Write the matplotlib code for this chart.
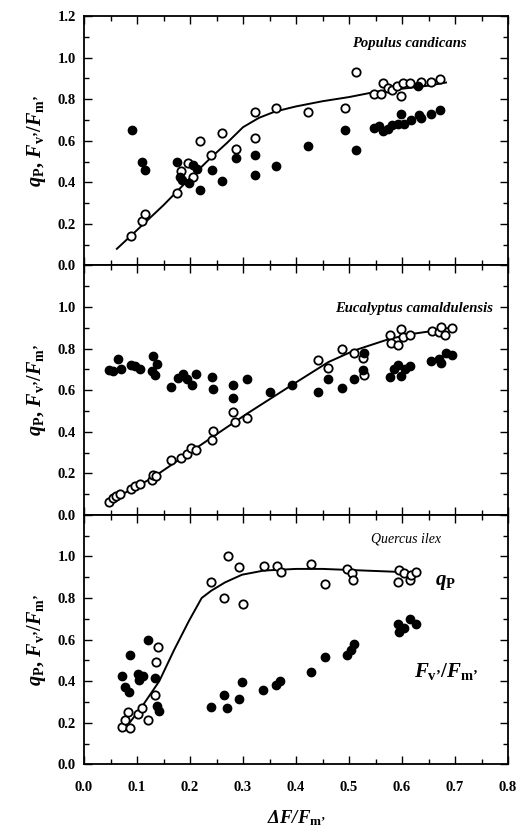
import matplotlib
matplotlib.use("Agg")
import matplotlib.pyplot as plt
from matplotlib.ticker import MultipleLocator, FixedLocator, FixedFormatter

plt.rcParams['font.family'] = ['Liberation Serif', 'DejaVu Serif']
plt.rcParams['font.weight'] = 'bold'
plt.rcParams['mathtext.fontset'] = 'custom'
plt.rcParams['mathtext.rm'] = 'Liberation Serif:bold'
plt.rcParams['mathtext.it'] = 'Liberation Serif:italic:bold'
plt.rcParams['mathtext.bf'] = 'Liberation Serif:bold'

# ---------------- data ----------------
# Populus candicans
pop_qp_x = [0.088,0.109,0.115,0.176,0.183,0.197,0.206,0.219,0.240,0.261,0.287,0.322,0.323,0.362,0.422,0.492,0.513,0.547,0.560,0.565,0.573,0.581,0.590,0.598,0.602,0.616,0.636,0.654,0.672]
pop_qp_y = [0.14,0.213,0.249,0.348,0.452,0.494,0.425,0.598,0.529,0.637,0.562,0.738,0.613,0.759,0.738,0.757,0.931,0.826,0.826,0.879,0.855,0.845,0.865,0.813,0.879,0.878,0.884,0.884,0.895]
pop_fv_x = [0.090,0.110,0.116,0.175,0.181,0.184,0.198,0.206,0.213,0.219,0.241,0.261,0.287,0.322,0.322,0.362,0.422,0.492,0.513,0.547,0.557,0.565,0.573,0.582,0.592,0.598,0.604,0.617,0.631,0.632,0.636,0.654,0.672]
pop_fv_y = [0.650,0.497,0.460,0.497,0.425,0.409,0.396,0.481,0.465,0.364,0.460,0.406,0.518,0.529,0.433,0.480,0.573,0.650,0.553,0.661,0.669,0.645,0.658,0.674,0.679,0.730,0.682,0.701,0.862,0.722,0.711,0.730,0.746]
pop_fit_x = [0.062,0.10,0.15,0.20,0.24,0.27,0.30,0.33,0.36,0.40,0.45,0.50,0.55,0.60,0.65,0.683]
pop_fit_y = [0.08,0.17,0.29,0.42,0.52,0.59,0.665,0.71,0.74,0.765,0.79,0.81,0.835,0.85,0.865,0.88]

# Eucalyptus camaldulensis
euc_qp_x = [0.047,0.054,0.061,0.068,0.088,0.097,0.106,0.129,0.131,0.136,0.164,0.183,0.194,0.201,0.212,0.242,0.244,0.281,0.285,0.307,0.441,0.461,0.487,0.510,0.527,0.529,0.577,0.580,0.593,0.598,0.601,0.616,0.656,0.669,0.674,0.681,0.694]
euc_qp_y = [0.064,0.080,0.090,0.099,0.125,0.138,0.148,0.170,0.193,0.189,0.266,0.273,0.294,0.324,0.313,0.359,0.403,0.494,0.449,0.465,0.744,0.708,0.796,0.777,0.754,0.671,0.866,0.828,0.818,0.895,0.855,0.866,0.886,0.879,0.906,0.866,0.900]
euc_fv_x = [0.047,0.054,0.064,0.069,0.088,0.096,0.105,0.130,0.129,0.134,0.138,0.164,0.178,0.186,0.194,0.203,0.212,0.242,0.244,0.282,0.281,0.308,0.350,0.393,0.441,0.461,0.487,0.510,0.529,0.527,0.577,0.584,0.593,0.598,0.606,0.616,0.655,0.669,0.674,0.683,0.694]
euc_fv_y = [0.695,0.693,0.751,0.700,0.722,0.716,0.703,0.764,0.693,0.675,0.725,0.616,0.658,0.679,0.655,0.626,0.679,0.663,0.606,0.627,0.563,0.655,0.592,0.627,0.590,0.655,0.610,0.655,0.780,0.695,0.663,0.703,0.719,0.667,0.700,0.716,0.740,0.748,0.732,0.780,0.770]
euc_fit_x = [0.045,0.129,0.242,0.307,0.393,0.461,0.510,0.577,0.620,0.656,0.696]
euc_fit_y = [0.061,0.178,0.374,0.486,0.626,0.735,0.791,0.847,0.871,0.884,0.903]

# Quercus ilex
que_qp_x = [0.072,0.077,0.083,0.086,0.101,0.110,0.121,0.134,0.136,0.140,0.240,0.264,0.271,0.293,0.300,0.339,0.364,0.371,0.429,0.455,0.497,0.506,0.508,0.593,0.595,0.604,0.616,0.617,0.626]
que_qp_y = [0.180,0.213,0.253,0.173,0.241,0.270,0.212,0.332,0.494,0.566,0.879,0.799,1.000,0.948,0.770,0.955,0.955,0.927,0.966,0.866,0.939,0.919,0.886,0.879,0.935,0.919,0.887,0.911,0.927]
que_fv_x = [0.072,0.077,0.085,0.086,0.101,0.104,0.112,0.121,0.134,0.137,0.141,0.240,0.264,0.270,0.292,0.299,0.337,0.362,0.370,0.429,0.454,0.496,0.503,0.509,0.592,0.595,0.604,0.616,0.626]
que_fv_y = [0.425,0.374,0.350,0.526,0.433,0.406,0.425,0.598,0.417,0.281,0.257,0.274,0.334,0.273,0.313,0.395,0.358,0.382,0.401,0.446,0.518,0.526,0.550,0.578,0.674,0.635,0.655,0.698,0.675]
que_fit_x = [0.077,0.11,0.142,0.17,0.198,0.222,0.24,0.266,0.298,0.339,0.40,0.45,0.50,0.55,0.60,0.63]
que_fit_y = [0.17,0.28,0.40,0.55,0.69,0.80,0.835,0.875,0.912,0.932,0.94,0.94,0.935,0.93,0.925,0.925]

x_ticks = [0.0,0.1,0.2,0.3,0.4,0.5,0.6,0.7,0.8]
y_ticks = [0.0,0.2,0.4,0.6,0.8,1.0,1.2]

panels = [
    ("Populus candicans", pop_qp_x, pop_qp_y, pop_fv_x, pop_fv_y, pop_fit_x, pop_fit_y),
    ("Eucalyptus camaldulensis", euc_qp_x, euc_qp_y, euc_fv_x, euc_fv_y, euc_fit_x, euc_fit_y),
    ("Quercus ilex", que_qp_x, que_qp_y, que_fv_x, que_fv_y, que_fit_x, que_fit_y),
]

# ---------------- figure ----------------
fig = plt.figure(figsize=(5.16, 8.35), dpi=100)
left, width = 0.1628, 0.8217
h = 0.29872
bottoms = [0.68211, 0.38339, 0.08467]
PR = "\u2019"
ylab = r"$q_\mathrm{P},\,F_{\mathrm{v}" + PR + r"}/F_{\mathrm{m}" + PR + r"}$"
fvfm = r"$F_{\mathrm{v}" + PR + r"}/F_{\mathrm{m}" + PR + r"}$"

axes = []
for i, (name, qx, qy, fx, fy, cx, cy) in enumerate(panels):
    ax = fig.add_axes([left, bottoms[i], width, h])
    axes.append(ax)
    ax.plot(cx, cy, color='black', lw=1.4, zorder=2)
    ax.plot(qx, qy, 'o', ms=6.0, mfc='white', mec='black', mew=1.3, zorder=3)
    ax.plot(fx, fy, 'o', ms=6.0, mfc='black', mec='black', mew=1.0, zorder=4)
    ax.set_xlim(0, 0.8)
    ax.set_ylim(0, 1.2)
    ax.xaxis.set_major_locator(FixedLocator(x_ticks))
    ax.xaxis.set_minor_locator(MultipleLocator(0.05))
    ax.yaxis.set_major_locator(FixedLocator(y_ticks))
    ax.yaxis.set_minor_locator(MultipleLocator(0.1))
    ylabels = ["%.1f" % v for v in y_ticks]
    if i > 0:
        ylabels[-1] = ""
    ax.yaxis.set_major_formatter(FixedFormatter(ylabels))
    ax.tick_params(which='both', direction='in', top=True, right=True, width=1.0)
    ax.tick_params(which='major', length=5.5)
    ax.tick_params(which='minor', length=3.5)
    ax.tick_params(axis='y', labelsize=10.5, pad=6)
    ax.tick_params(axis='x', labelsize=10.5, pad=12)
    for s in ax.spines.values():
        s.set_linewidth(1.3)
    if i < 2:
        ax.tick_params(axis='x', labelbottom=False)
    else:
        ax.set_xticklabels(["%.1f" % v for v in x_ticks])
    for lab in ax.get_xticklabels() + ax.get_yticklabels():
        lab.set_fontweight('bold')
    ax.set_ylabel(ylab, fontsize=14.5, labelpad=7)

axes[0].text(0.722, 1.066, "Populus candicans", ha='right', va='center',
             fontsize=10.5, style='italic', weight='bold')
axes[1].text(0.771, 0.995, "Eucalyptus camaldulensis", ha='right', va='center',
             fontsize=10.5, style='italic', weight='bold')
axes[2].text(0.674, 1.085, "Quercus ilex", ha='right', va='center',
             fontsize=10, style='italic', weight='normal')
axes[2].text(0.663, 0.877, r"$q_\mathrm{P}$", ha='left', va='center', fontsize=15)
axes[2].text(0.623, 0.445, fvfm, ha='left', va='center', fontsize=15)

axes[2].set_xlabel(r"ΔF/$F_{\mathrm{m}" + PR + r"}$", fontsize=13.5, style='italic',
                   weight='bold', labelpad=10)

fig.savefig("out.png", dpi=100)
